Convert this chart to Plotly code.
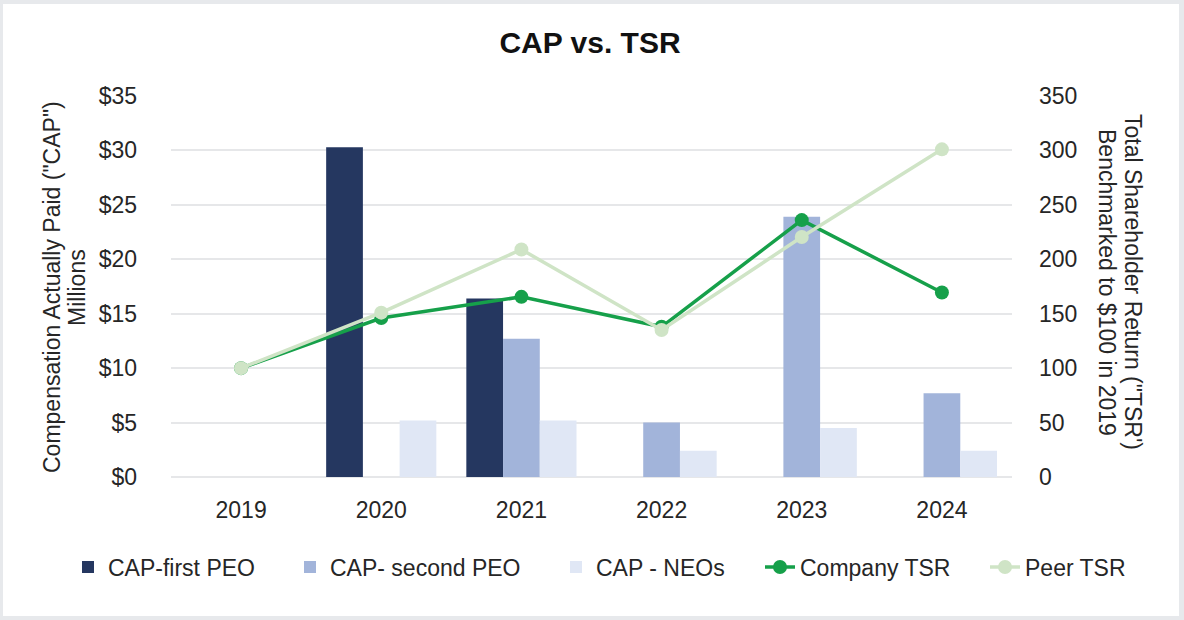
import plotly.graph_objects as go

years = ["2019", "2020", "2021", "2022", "2023", "2024"]
cap_first_peo = [None, 30.3, 16.4, None, None, None]
cap_second_peo = [None, None, 12.7, 5.0, 23.9, 7.7]
cap_neos = [None, 5.2, 5.2, 2.4, 4.5, 2.4]
company_tsr = [100, 146, 165.5, 138, 236, 169.5]
peer_tsr = [100, 151, 209, 135, 220.5, 301]

left_ticks = [0, 5, 10, 15, 20, 25, 30, 35]
right_ticks = [0, 50, 100, 150, 200, 250, 300, 350]

FONT = "Liberation Sans, Arial, sans-serif"
TXT = "#262626"
FS = 23

W, H = 1184, 620
L, R, T, B = 171, 172, 96, 143
PW, PH = W - L - R, H - T - B

def px(x):
    return (x - L) / PW

def py(y):
    return ((H - y) - B) / PH

fig = go.Figure()
fig.add_trace(go.Bar(x=years, y=cap_first_peo, name="CAP-first PEO", legend="legend",
                     marker=dict(color="#253760", line=dict(width=0))))
fig.add_trace(go.Bar(x=years, y=cap_second_peo, name="CAP- second PEO", legend="legend2",
                     marker=dict(color="#A2B4DA", line=dict(width=0))))
fig.add_trace(go.Bar(x=years, y=cap_neos, name="CAP - NEOs", legend="legend3",
                     marker=dict(color="#E0E7F5", line=dict(width=0))))
fig.add_trace(go.Scatter(x=years, y=company_tsr, name="Company TSR", yaxis="y2",
                         legend="legend4", mode="lines+markers",
                         line=dict(color="#16A04A", width=3.5),
                         marker=dict(color="#16A04A", size=14)))
fig.add_trace(go.Scatter(x=years, y=peer_tsr, name="Peer TSR", yaxis="y2",
                         legend="legend5", mode="lines+markers",
                         line=dict(color="#CFE4C6", width=3.5),
                         marker=dict(color="#CFE4C6", size=14)))

def leg(text_start):
    return dict(orientation="h", xref="container", x=(text_start - 40) / W,
                xanchor="left", yref="container", y=1 - 567 / H, yanchor="middle",
                font=dict(size=FS, color=TXT), itemwidth=30,
                bgcolor="rgba(0,0,0,0)", borderwidth=0)

fig.update_layout(
    width=W, height=H,
    margin=dict(l=L, r=R, t=T, b=B, pad=0),
    paper_bgcolor="#E7E9EC",
    plot_bgcolor="rgba(0,0,0,0)",
    font=dict(family=FONT, size=FS, color=TXT),
    barmode="group", bargap=0.214, bargroupgap=0,
    title=dict(text="CAP vs. TSR", x=590 / W, xanchor="center",
               y=1 - 42 / H, yanchor="middle", yref="container",
               font=dict(family=FONT, size=30, color="#111111", weight="bold")),
    xaxis=dict(type="category", showgrid=False, showline=False, zeroline=False,
               ticks="", ticklabelstandoff=17, tickfont=dict(size=FS, color=TXT)),
    yaxis=dict(range=[0, 35], tickvals=left_ticks,
               ticktext=["$" + str(v) for v in left_ticks],
               showgrid=True, gridcolor="#E6E7E9", gridwidth=1.5,
               zeroline=True, zerolinecolor="#E6E7E9", zerolinewidth=1.5,
               showline=False, ticks="", ticklabelstandoff=33,
               tickfont=dict(size=FS, color=TXT)),
    yaxis2=dict(range=[0, 350], tickvals=right_ticks, overlaying="y", side="right",
                showgrid=False, zeroline=False, showline=False, ticks="",
                ticklabelstandoff=26, tickfont=dict(size=FS, color=TXT)),
    legend=leg(108),
    legend2=leg(330),
    legend3=leg(596),
    legend4=leg(800),
    legend5=leg(1025),
    showlegend=True,
)

fig.add_shape(type="rect", xref="paper", yref="paper",
              x0=px(3), x1=px(1179), y0=py(616), y1=py(4),
              fillcolor="white", line=dict(width=0), layer="below")

ann = [
    ('Compensation Actually Paid ("CAP")', 52, 287, -90),
    ("Millions", 77, 288, -90),
    ('Total Shareholder Return ("TSR\')', 1133, 282, 90),
    ("Benchmarked to $100 in 2019", 1107, 282, 90),
]
for text, x, y, ang in ann:
    fig.add_annotation(text=text, xref="paper", yref="paper", x=px(x), y=py(y),
                       xanchor="center", yanchor="middle", textangle=ang,
                       showarrow=False, font=dict(size=FS, color=TXT, family=FONT))

fig.write_html("out.html", config={"displayModeBar": False},
               post_script="document.body.style.margin='0';document.body.style.padding='0';document.documentElement.style.overflow='hidden';")
